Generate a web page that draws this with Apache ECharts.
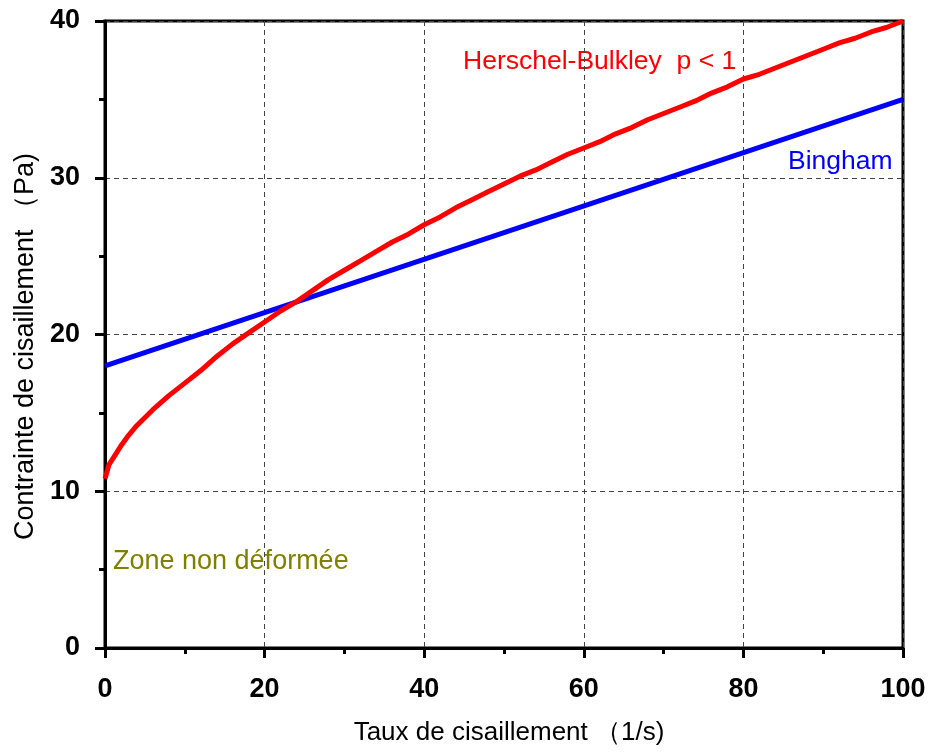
<!DOCTYPE html>
<html>
<head>
<meta charset="utf-8">
<script src="https://cdn.jsdelivr.net/npm/echarts@6/dist/echarts.min.js"></script>
<style>html,body{margin:0;padding:0;background:#fff;}#c{width:932px;height:753px;}</style>
</head>
<body>
<div id="c"></div>
<script>
var hbX = [0,0.5,1,2,3,4,6,8,10,12,14,16,18,20,22,24,26,28,30,32,34,36,38,40,42,44,46,48,50,52,54,56,58,60,62,64,66,68,70,72,74,76,78,80,82,84,86,88,90,92,94,96,98,100];
var hbY = [10.8,11.7,12.1,12.9,13.6,14.2,15.2,16.1,16.9,17.7,18.6,19.4,20.1,20.8,21.5,22.1,22.8,23.5,24.1,24.7,25.3,25.9,26.4,27.0,27.5,28.1,28.6,29.1,29.6,30.1,30.5,31.0,31.5,31.9,32.3,32.8,33.2,33.7,34.1,34.5,34.9,35.4,35.8,36.3,36.6,37.0,37.4,37.8,38.2,38.6,38.9,39.3,39.6,40.0];
var binghamX = [0,100];
var binghamY = [18.0,35.0];
var xTicks = [0,20,40,60,80,100];
var yTicks = [0,10,20,30,40];

var chart = echarts.init(document.getElementById('c'));
var font = '"Liberation Sans", Arial, sans-serif';
chart.setOption({
  animation:false,
  backgroundColor:'#fff',
  grid:{left:105,right:29,top:21,bottom:105,show:true,borderColor:'#000',borderWidth:3,backgroundColor:'transparent'},
  xAxis:{type:'value',min:xTicks[0],max:xTicks[xTicks.length-1],interval:20,
    name:'Taux de cisaillement （1/s)',nameLocation:'middle',nameGap:72,
    nameTextStyle:{fontFamily:font,fontSize:26,color:'#000',padding:[0,0,0,10]},
    axisLine:{lineStyle:{color:'#000',width:3}},
    axisTick:{length:10,lineStyle:{color:'#000',width:3}},
    minorTick:{show:true,splitNumber:2,length:6,lineStyle:{color:'#000',width:3}},
    axisLabel:{margin:28,fontFamily:font,fontSize:27,fontWeight:'bold',color:'#000'},
    splitLine:{show:true,lineStyle:{color:'#444',width:1,type:[5,4]}}
  },
  yAxis:{type:'value',min:yTicks[0],max:yTicks[yTicks.length-1],interval:10,
    name:'Contrainte de cisaillement （Pa)',nameLocation:'middle',nameGap:66,
    nameTextStyle:{fontFamily:font,fontSize:27,color:'#000',padding:[0,24,0,0]},
    axisLine:{show:true,lineStyle:{color:'#000',width:3}},
    axisTick:{show:true,length:10,lineStyle:{color:'#000',width:3}},
    minorTick:{show:true,splitNumber:2,length:6,lineStyle:{color:'#000',width:3}},
    axisLabel:{margin:25,fontFamily:font,fontSize:27,fontWeight:'bold',color:'#000'},
    splitLine:{show:true,lineStyle:{color:'#444',width:1,type:[5,4]}}
  },
  series:[
    {type:'line',name:'Bingham',showSymbol:false,data:binghamX.map(function(x,i){return [x,binghamY[i]];}),
      lineStyle:{color:'#0000ff',width:5},z:3},
    {type:'line',name:'Herschel-Bulkley',showSymbol:false,data:hbX.map(function(x,i){return [x,hbY[i]];}),
      lineStyle:{color:'#ff0000',width:5},z:4}
  ],
  graphic:[
    {type:'text',left:463,top:48,style:{text:'Herschel-Bulkley  p < 1',fill:'#ff0000',font:'26.5px '+font}},
    {type:'text',left:788,top:148,style:{text:'Bingham',fill:'#0000ff',font:'26.5px '+font}},
    {type:'text',left:113,top:548,style:{text:'Zone non déformée',fill:'#808000',font:'27px '+font}}
  ]
});
</script>
</body>
</html>
